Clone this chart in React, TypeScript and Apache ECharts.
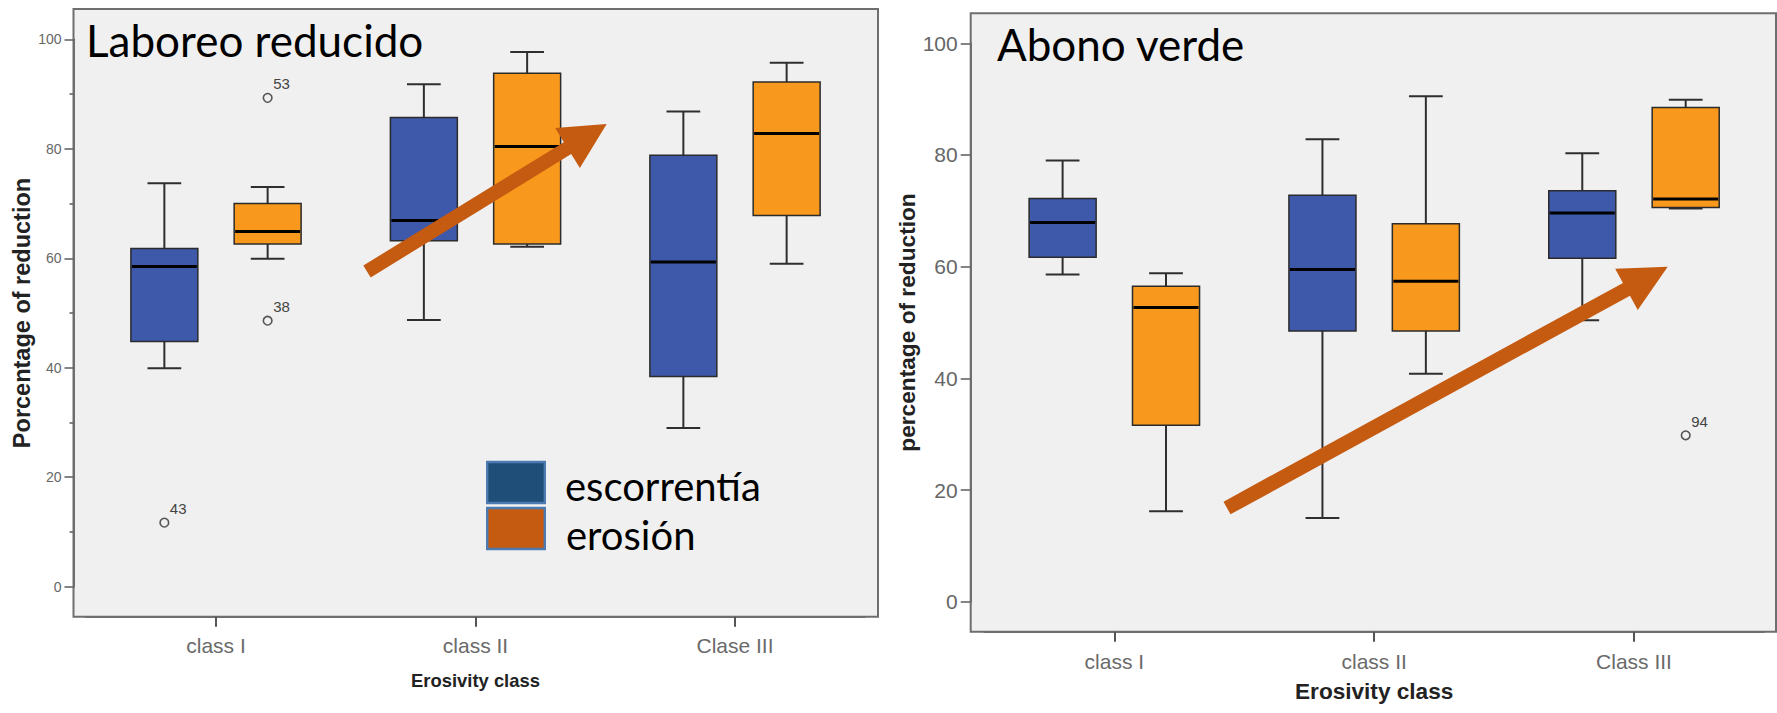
import React, { useEffect, useRef } from 'react';
import * as echarts from 'echarts';

// ---------- data ----------
const categoriesLaboreo = ['class I', 'class II', 'Clase III'];
const categoriesAbono = ['class I', 'class II', 'Class III'];
const yTickInterval = 20;

// box summaries: [min, Q1, median, Q3, max]
const laboreoEscorrentia = [
  [39.9, 44.8, 58.5, 61.8, 73.7],
  [48.7, 63.2, 66.9, 85.7, 91.8],
  [29.0, 38.4, 59.3, 78.8, 86.8],
];
const laboreoErosion = [
  [59.9, 62.6, 64.9, 70.0, 73.0],
  [62.1, 62.6, 80.4, 93.8, 97.7],
  [59.0, 67.8, 82.8, 92.2, 95.7],
];
const abonoEscorrentia = [
  [58.6, 61.7, 67.9, 72.2, 79.0],
  [15.0, 48.5, 59.5, 72.8, 82.8],
  [50.4, 61.5, 69.6, 73.6, 80.3],
];
const abonoErosion = [
  [16.2, 31.6, 52.7, 56.5, 58.8],
  [40.8, 48.5, 57.4, 67.7, 90.5],
  [70.4, 70.6, 72.1, 88.5, 89.9],
];
// outliers: [category index, side (-1 escorrentía, +1 erosión), value]
const laboreoOutliers = [
  [0, -1, 11.7],
  [0, 1, 89.3],
  [0, 1, 48.6],
];
const laboreoOutlierLabels = ['43', '53', '38'];
const abonoOutliers = [[2, 1, 29.8]];
const abonoOutlierLabels = ['94'];

const legendNames = ['escorrentía', 'erosión'];

// ---------- styles / layout ----------
const BLUE = '#3e58aa';
const ORANGE = '#f8981d';
const ARROW = '#c55a11';
const BOX_OFFSET = 0.199; // fraction of band
const BOX_W = 0.258;
const CAP_W = 0.13;
const FRAME = '#6e6e6e';
const SANS = 'Liberation Sans, Arial, sans-serif';
const TITLE_FONT = 'Lato, Calibri, sans-serif';

function boxRender(side: number, fill: string) {
  return (params: any, api: any) => {
    const idx = api.value(0);
    const band = api.size([1, 0])[0];
    const cx = api.coord([idx, 0])[0] + side * BOX_OFFSET * band;
    const yMin = api.coord([idx, api.value(1)])[1];
    const yQ1 = api.coord([idx, api.value(2)])[1];
    const yMed = api.coord([idx, api.value(3)])[1];
    const yQ3 = api.coord([idx, api.value(4)])[1];
    const yMax = api.coord([idx, api.value(5)])[1];
    const hw = (band * BOX_W) / 2;
    const cw = (band * CAP_W) / 2;
    const ls = { stroke: '#2e2e2e', lineWidth: 2 };
    return {
      type: 'group',
      children: [
        { type: 'line', shape: { x1: cx, y1: yQ3, x2: cx, y2: yMax }, style: ls },
        { type: 'line', shape: { x1: cx, y1: yQ1, x2: cx, y2: yMin }, style: ls },
        { type: 'line', shape: { x1: cx - cw, y1: yMax, x2: cx + cw, y2: yMax }, style: ls },
        { type: 'line', shape: { x1: cx - cw, y1: yMin, x2: cx + cw, y2: yMin }, style: ls },
        {
          type: 'rect',
          shape: { x: cx - hw, y: yQ3, width: 2 * hw, height: yQ1 - yQ3 },
          style: { fill, stroke: '#2b2b2b', lineWidth: 1.5 },
        },
        {
          type: 'line',
          shape: { x1: cx - hw + 1, y1: yMed, x2: cx + hw - 1, y2: yMed },
          style: { stroke: '#000', lineWidth: 3 },
        },
      ],
    };
  };
}

function outlierRender(labels: string[]) {
  return (params: any, api: any) => {
    const idx = api.value(0);
    const side = api.value(1);
    const band = api.size([1, 0])[0];
    const pt = api.coord([idx, api.value(2)]);
    const cx = pt[0] + side * BOX_OFFSET * band;
    const cy = pt[1];
    return {
      type: 'group',
      children: [
        { type: 'circle', shape: { cx, cy, r: 4.3 }, style: { fill: 'none', stroke: '#555', lineWidth: 1.6 } },
        {
          type: 'text',
          x: cx + 5.5,
          y: cy - 14,
          style: {
            text: labels[params.dataIndex],
            fill: '#444',
            font: `15px ${SANS}`,
            textAlign: 'left',
            textVerticalAlign: 'middle',
          },
        },
      ],
    };
  };
}

function arrowPoints(tail: number[], tip: number[], shaftW: number, headL: number, headW: number) {
  const dx = tip[0] - tail[0];
  const dy = tip[1] - tail[1];
  const len = Math.hypot(dx, dy);
  const ux = dx / len;
  const uy = dy / len;
  const nx = -uy;
  const ny = ux;
  const bx = tip[0] - ux * headL;
  const by = tip[1] - uy * headL;
  return [
    [tail[0] + (nx * shaftW) / 2, tail[1] + (ny * shaftW) / 2],
    [bx + (nx * shaftW) / 2, by + (ny * shaftW) / 2],
    [bx + (nx * headW) / 2, by + (ny * headW) / 2],
    [tip[0], tip[1]],
    [bx - (nx * headW) / 2, by - (ny * headW) / 2],
    [bx - (nx * shaftW) / 2, by - (ny * shaftW) / 2],
    [tail[0] - (nx * shaftW) / 2, tail[1] - (ny * shaftW) / 2],
  ];
}

function yAxisCfg(gridIndex: number, name: string, opts: any) {
  return {
    gridIndex,
    type: 'value',
    min: 0,
    max: 100,
    interval: yTickInterval,
    offset: opts.offset,
    axisLine: { show: true, onZero: false, lineStyle: { color: FRAME, width: 2 } },
    axisTick: { show: true, length: opts.tickLen, lineStyle: { color: '#666', width: 1.6 } },
    minorTick: { show: opts.minor, splitNumber: 2, length: 4, lineStyle: { color: '#666', width: 1.6 } },
    splitLine: { show: false },
    axisLabel: { fontSize: opts.labelSize, color: '#666', margin: opts.labelMargin, fontFamily: SANS },
    name,
    nameLocation: 'middle',
    nameGap: opts.nameGap,
    nameTextStyle: { fontSize: opts.nameSize, fontWeight: 'bold', color: '#222', fontFamily: SANS },
  };
}

function xAxisCfg(gridIndex: number, data: string[], opts: any) {
  return {
    gridIndex,
    type: 'category',
    data,
    offset: 30,
    boundaryGap: true,
    axisLine: { show: true, onZero: false, lineStyle: { color: FRAME, width: 2 } },
    axisTick: { show: true, alignWithLabel: true, length: 10, lineStyle: { color: '#555', width: 2 } },
    axisLabel: { fontSize: 21, color: '#6a6a6a', margin: opts.margin, fontFamily: SANS },
    splitLine: { show: false },
    name: 'Erosivity class',
    nameLocation: 'middle',
    nameGap: opts.nameGap,
    nameTextStyle: { fontSize: opts.nameSize, fontWeight: 'bold', color: '#222', fontFamily: SANS },
  };
}

const withIndex = (rows: number[][]) => rows.map((r, i) => [i, ...r]);

export default function App() {
  const ref = useRef<HTMLDivElement>(null);
  useEffect(() => {
    if (!ref.current) return;
    const chart = echarts.init(ref.current, undefined, { renderer: 'svg' });
    const boxSeries = (xIdx: number, data: number[][], side: number, fill: string, name: string) => ({
      type: 'custom',
      name,
      xAxisIndex: xIdx,
      yAxisIndex: xIdx,
      data: withIndex(data),
      encode: { x: 0, y: [1, 2, 3, 4, 5] },
      renderItem: boxRender(side, fill),
      z: 3,
    });
    const outlierSeries = (xIdx: number, data: number[][], labels: string[]) => ({
      type: 'custom',
      name: 'outliers',
      xAxisIndex: xIdx,
      yAxisIndex: xIdx,
      data,
      encode: { x: 0, y: 2 },
      renderItem: outlierRender(labels),
      z: 4,
    });
    const option: any = {
      animation: false,
      backgroundColor: '#ffffff',
      grid: [
        { left: 86.25, right: 1777 - 864.75, top: 39.3, bottom: 713 - 586.7 },
        { left: 984.4, right: 1777 - 1763.9, top: 43.3, bottom: 713 - 601.7 },
      ],
      xAxis: [
        xAxisCfg(0, categoriesLaboreo, { nameGap: 55, margin: 18, nameSize: 18.4 }),
        xAxisCfg(1, categoriesAbono, { nameGap: 48, margin: 19, nameSize: 22.6 }),
      ],
      yAxis: [
        yAxisCfg(0, 'Porcentage of reduction', {
          offset: 12.75, tickLen: 9, minor: true, labelSize: 14, labelMargin: 12, nameGap: 40, nameSize: 23.5,
        }),
        yAxisCfg(1, 'percentage of reduction', {
          offset: 13.7, tickLen: 10, minor: false, labelSize: 21, labelMargin: 13, nameGap: 49, nameSize: 22.7,
        }),
      ],
      series: [
        boxSeries(0, laboreoEscorrentia, -1, BLUE, legendNames[0]),
        boxSeries(0, laboreoErosion, 1, ORANGE, legendNames[1]),
        outlierSeries(0, laboreoOutliers, laboreoOutlierLabels),
        boxSeries(1, abonoEscorrentia, -1, BLUE, legendNames[0]),
        boxSeries(1, abonoErosion, 1, ORANGE, legendNames[1]),
        outlierSeries(1, abonoOutliers, abonoOutlierLabels),
      ],
      graphic: [
        // plot frames
        {
          type: 'rect', z: -1, silent: true,
          shape: { x: 73.5, y: 9, width: 878 - 73.5, height: 616.7 - 9 },
          style: { fill: '#f0f0f0', stroke: FRAME, lineWidth: 2 },
        },
        {
          type: 'rect', z: -1, silent: true,
          shape: { x: 970.7, y: 13.3, width: 1776 - 970.7, height: 631.7 - 13.3 },
          style: { fill: '#f0f0f0', stroke: FRAME, lineWidth: 2 },
        },
        // titles
        {
          type: 'text', z: 100, x: 86, y: 39.7,
          style: { text: 'Laboreo reducido', fill: '#000', font: `44px ${TITLE_FONT}`, textVerticalAlign: 'middle' },
        },
        {
          type: 'text', z: 100, x: 997, y: 44,
          style: { text: 'Abono verde', fill: '#000', font: `44px ${TITLE_FONT}`, textVerticalAlign: 'middle' },
        },
        // arrows
        {
          type: 'polygon', z: 100,
          shape: { points: arrowPoints([367, 271.5], [606.7, 124], 14, 46, 47) },
          style: { fill: ARROW },
        },
        {
          type: 'polygon', z: 100,
          shape: { points: arrowPoints([1227, 508], [1667.7, 266.7], 14.5, 47, 47) },
          style: { fill: ARROW },
        },
        // legend
        {
          type: 'rect', z: 100,
          shape: { x: 487.2, y: 462, width: 57.6, height: 41 },
          style: { fill: '#1f4e79', stroke: '#4b7bb0', lineWidth: 2.4 },
        },
        {
          type: 'rect', z: 100,
          shape: { x: 487.2, y: 508, width: 57.6, height: 41 },
          style: { fill: '#c55a11', stroke: '#4b7bb0', lineWidth: 2.4 },
        },
        {
          type: 'text', z: 100, x: 565, y: 485.5,
          style: { text: legendNames[0], fill: '#000', font: `40px ${TITLE_FONT}`, textVerticalAlign: 'middle' },
        },
        {
          type: 'text', z: 100, x: 566, y: 534.5,
          style: { text: legendNames[1], fill: '#000', font: `40px ${TITLE_FONT}`, textVerticalAlign: 'middle' },
        },
      ],
    };
    chart.setOption(option);
    return () => chart.dispose();
  }, []);
  return (
    <div
      ref={ref}
      style={{ position: 'absolute', left: 0, top: 0, width: 1777, height: 713, background: '#fff' }}
    />
  );
}
